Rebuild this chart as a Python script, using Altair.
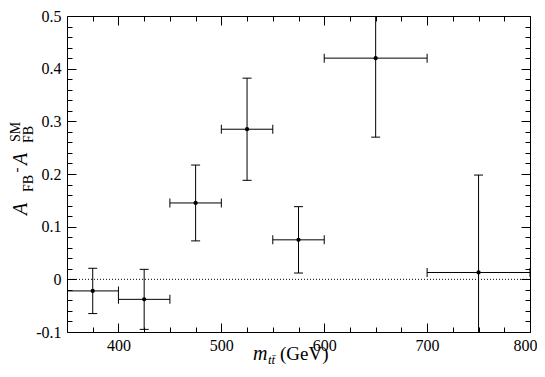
import altair as alt
import pandas as pd

# ---- data ----
x_center = [375, 425, 475, 525, 575, 650, 750]
x_low = [350, 400, 450, 500, 550, 600, 700]
x_high = [400, 450, 500, 550, 600, 700, 800]
asym = [-0.022, -0.038, 0.145, 0.285, 0.075, 0.42, 0.013]
asym_err = [0.043, 0.057, 0.072, 0.097, 0.063, 0.15, 0.185]

x_major = [400, 500, 600, 700, 800]
x_minor = [375, 425, 450, 475, 525, 550, 575, 625, 650, 675, 725, 750, 775]
y_major = [-0.1, 0.0, 0.1, 0.2, 0.3, 0.4, 0.5]
y_minor = [-0.08, -0.06, -0.04, -0.02, 0.02, 0.04, 0.06, 0.08,
           0.12, 0.14, 0.16, 0.18, 0.22, 0.24, 0.26, 0.28,
           0.32, 0.34, 0.36, 0.38, 0.42, 0.44, 0.46, 0.48]

df = pd.DataFrame({
    "m": x_center, "mlo": x_low, "mhi": x_high, "a": asym, "err": asym_err,
})
df["alo"] = df["a"] - df["err"]
df["ahi"] = df["a"] + df["err"]
zero_df = pd.DataFrame({"z": [0.0]})
one = pd.DataFrame({"k": [0]})

FONT = "Liberation Serif"
xs = alt.Scale(domain=[350, 800], nice=False, zero=False)
ys = alt.Scale(domain=[-0.1, 0.5], nice=False, zero=False)


def tick_axis(orient, values, size):
    return alt.Axis(orient=orient, values=values, tickSize={"expr": str(-size)},
                    ticks=True, labels=False, domain=False, grid=False, title=None,
                    tickColor="black", tickWidth=1)


x_lab_axis = alt.Axis(orient="bottom", values=x_major, ticks=False, domain=False,
                      grid=False, title=None, labelFont=FONT, labelFontSize=16,
                      labelColor="black", labelPadding=5, labelOverlap=False,
                      labelFlush=True, labelFlushOffset=7, format="d")
y_lab_axis = alt.Axis(orient="left", values=y_major, ticks=False, domain=False,
                      grid=False, title=None, labelFont=FONT, labelFontSize=16,
                      labelColor="black", labelPadding=6, labelOverlap=False,
                      labelFlush=False,
                      labelExpr="replace(format(datum.value, '.1~f'), '\u2212', '-')")

base = alt.Chart(df)

zero_line = alt.Chart(zero_df).mark_rule(color="black", strokeDash=[1, 2], strokeWidth=1).encode(
    y=alt.Y("z:Q", scale=ys, axis=None)
)

vbar = base.mark_rule(color="black", strokeWidth=1, clip=True).encode(
    x=alt.X("m:Q", scale=xs, axis=x_lab_axis),
    y=alt.Y("alo:Q", scale=ys, axis=y_lab_axis),
    y2="ahi:Q",
)
hbar = base.mark_rule(color="black", strokeWidth=1, clip=True).encode(
    x=alt.X("mlo:Q", scale=xs, axis=tick_axis("bottom", x_major, 9)),
    x2="mhi:Q",
    y=alt.Y("a:Q", scale=ys, axis=tick_axis("left", y_major, 9)),
)
cap_lo = base.mark_tick(orient="horizontal", size=9, thickness=1, color="black",
                        opacity=1, clip=True).encode(
    x=alt.X("m:Q", scale=xs, axis=tick_axis("bottom", x_minor, 5)),
    y=alt.Y("alo:Q", scale=ys, axis=tick_axis("left", y_minor, 5)),
)
cap_hi = base.mark_tick(orient="horizontal", size=9, thickness=1, color="black",
                        opacity=1, clip=True).encode(
    x=alt.X("m:Q", scale=xs, axis=tick_axis("top", x_major, 9)),
    y=alt.Y("ahi:Q", scale=ys, axis=tick_axis("right", y_major, 9)),
)
xcap_lo = base.mark_tick(orient="vertical", size=9, thickness=1, color="black",
                         opacity=1, clip=True).encode(
    x=alt.X("mlo:Q", scale=xs, axis=tick_axis("top", x_minor, 5)),
    y=alt.Y("a:Q", scale=ys, axis=tick_axis("right", y_minor, 5)),
)
xcap_hi = base.mark_tick(orient="vertical", size=9, thickness=1, color="black",
                         opacity=1, clip=True).encode(
    x=alt.X("mhi:Q", scale=xs, axis=None),
    y=alt.Y("a:Q", scale=ys, axis=None),
)
pts = base.mark_circle(size=18, color="black", opacity=1).encode(
    x=alt.X("m:Q", scale=xs, axis=None),
    y=alt.Y("a:Q", scale=ys, axis=None),
)


def txt(s, x, y, size, angle=0, style="normal", align="left", baseline="alphabetic"):
    return alt.Chart(one).mark_text(text=s, font=FONT, fontSize=size, fontStyle=style,
                                    angle=angle, align=align, baseline=baseline,
                                    color="black").encode(x=alt.value(x), y=alt.value(y))


# y-axis title: A_FB - A_FB^SM (rotated)
ytitle = [
    txt("A", -40, 199, 20, 270, "italic"),
    txt("FB", -34, 176, 14, 270),
    txt("-", -46, 154, 15, 270, align="center"),
    txt("A", -40, 149, 20, 270, "italic"),
    txt("FB", -34, 127, 14, 270),
    txt("SM", -47, 126, 14, 270),
]
# x-axis title: m_tt̄ (GeV)
xtitle = [
    txt("m", 186, 344, 20, 0, "italic"),
    txt("tt\u0304", 201, 348, 13, 0, "italic"),
    txt("(GeV)", 213, 344, 19),
]

chart = alt.layer(
    zero_line, vbar, hbar, cap_lo, cap_hi, xcap_lo, xcap_hi, pts, *ytitle, *xtitle
).resolve_axis(x="independent", y="independent").properties(
    width=463, height=316,
    autosize=alt.AutoSizeParams(type="none"),
    padding={"left": 59, "top": 8, "right": 7, "bottom": 35},
).configure_view(stroke="black", strokeWidth=1).configure_axis(labelFont=FONT)

chart.save("out.html", embed_options={"renderer": "svg", "actions": False})
